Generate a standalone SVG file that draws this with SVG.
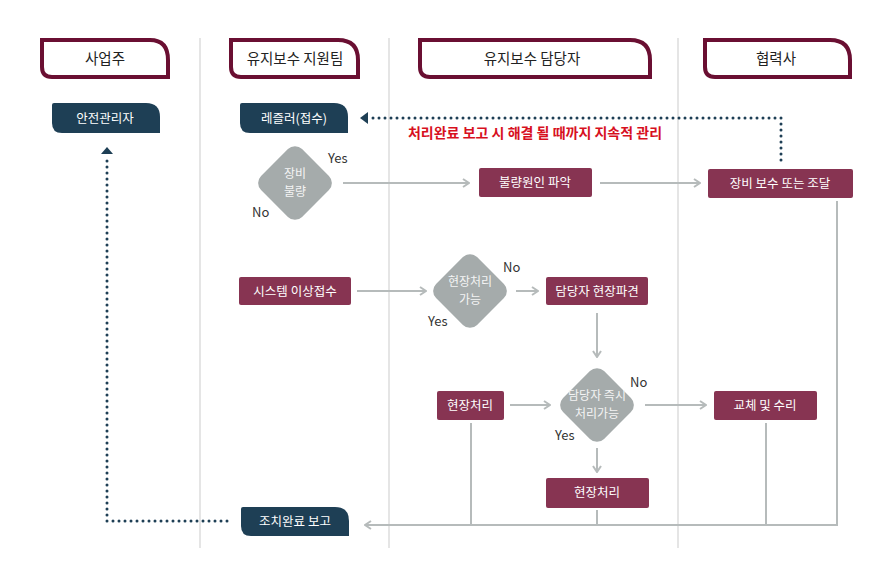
<svg xmlns="http://www.w3.org/2000/svg" width="893" height="563" viewBox="0 0 893 563">
<style>
text{font-family:"Noto Sans CJK KR","Noto Sans",sans-serif}
.hdr{fill:#fff;stroke:#6a0f32;stroke-width:4}
.ht{font-size:14.5px;fill:#222;text-anchor:middle}
.lane{stroke:#dddddd;stroke-width:1.5}
.navy{fill:#1e3f55}
.mar{fill:#873452}
.dia{fill:#a5abab}
.nt{font-size:12.5px;fill:#fff;text-anchor:middle}
.dt{font-size:12px;fill:#f4f4f4;text-anchor:middle}
.lbl{font-size:13px;fill:#333}
.ln{fill:none;stroke:#b6bbbb;stroke-width:2}
.dot{fill:none;stroke:#1e3f55;stroke-width:3;stroke-linecap:round;stroke-dasharray:0 6}
</style>
<defs>
<marker id="chev" viewBox="0 0 10 10" refX="9" refY="5" markerWidth="10" markerHeight="10" markerUnits="userSpaceOnUse" orient="auto">
<path d="M3,1 L9,5 L3,9" fill="none" stroke="#b6bbbb" stroke-width="2"/>
</marker>
</defs>
<rect width="893" height="563" fill="#fff"/>
<g id="lanes">
<line class="lane" x1="200" y1="38" x2="200" y2="548"/>
<line class="lane" x1="389" y1="38" x2="389" y2="548"/>
<line class="lane" x1="678" y1="38" x2="678" y2="548"/>
</g>
<g id="h1"><path class="hdr" d="M42,40 H150 Q168,40 168,60 V77 H52 Q42,77 42,67 Z"/><text class="ht" x="105" y="64">사업주</text></g>
<g id="h2"><path class="hdr" d="M231,40 H338 Q358,40 358,60 V77 H241 Q231,77 231,67 Z"/><text class="ht" x="295" y="64">유지보수 지원팀</text></g>
<g id="h3"><path class="hdr" d="M420,40 H630 Q650,40 650,60 V77 H430 Q420,77 420,67 Z"/><text class="ht" x="532" y="64">유지보수 담당자</text></g>
<g id="h4"><path class="hdr" d="M705,40 H830 Q850,40 850,60 V77 H715 Q705,77 705,67 Z"/><text class="ht" x="776" y="64">협력사</text></g>

<g id="connectors">
<path class="dot" d="M781,160 V118 H368"/>
<path d="M360,118 L368,112 L368,124 Z" fill="#1e3f55"/>
<path class="dot" d="M227,521 H107 V160"/>
<path d="M107,147 L101,154 L113,154 Z" fill="#1e3f55"/>
<path class="ln" d="M343,183 H469" marker-end="url(#chev)"/>
<path class="ln" d="M600,183 H700" marker-end="url(#chev)"/>
<path class="ln" d="M357,291 H426" marker-end="url(#chev)"/>
<path class="ln" d="M516,291 H538" marker-end="url(#chev)"/>
<path class="ln" d="M597,313 V357" marker-end="url(#chev)"/>
<path class="ln" d="M510,405 H550" marker-end="url(#chev)"/>
<path class="ln" d="M645,405 H706" marker-end="url(#chev)"/>
<path class="ln" d="M597,448 V472" marker-end="url(#chev)"/>
<path class="ln" d="M471,423 V525"/>
<path class="ln" d="M597,510 V525"/>
<path class="ln" d="M766,423 V525"/>
<path class="ln" d="M837,201 V525 H365" marker-end="url(#chev)"/>
</g>

<g id="n_safety"><path class="navy" d="M54,103 H146 Q160,103 160,117 V133 H62 Q52,133 52,123 V105 Q52,103 54,103 Z"/><text class="nt" x="105" y="123">안전관리자</text></g>
<g id="n_reg"><path class="navy" d="M242,103 H334 Q348,103 348,117 V133 H250 Q240,133 240,123 V105 Q240,103 242,103 Z"/><text class="nt" x="294" y="123">레즐러(접수)</text></g>
<g id="n_report"><path class="navy" d="M243,507 H335 Q349,507 349,521 V536 H251 Q241,536 241,526 V509 Q241,507 243,507 Z"/><text class="nt" x="295" y="526">조치완료 보고</text></g>

<g id="note"><text x="535" y="138" font-size="14" font-weight="bold" fill="#d7101e" text-anchor="middle">처리완료 보고 시 해결 될 때까지 지속적 관리</text></g>

<g id="d1"><rect class="dia" x="266" y="154" width="58" height="58" rx="10" transform="rotate(45 295 183)"/><text class="dt" x="295" y="178">장비</text><text class="dt" x="295" y="196">불량</text>
<text class="lbl" x="328" y="163">Yes</text><text class="lbl" x="252" y="217">No</text></g>
<g id="n_cause"><rect class="mar" x="479" y="168" width="113" height="29" rx="2"/><text class="nt" x="535" y="187">불량원인 파악</text></g>
<g id="n_supply"><rect class="mar" x="708" y="169" width="145" height="29" rx="2"/><text class="nt" x="780" y="188">장비 보수 또는 조달</text></g>

<g id="n_sys"><rect class="mar" x="239" y="277" width="112" height="28" rx="2"/><text class="nt" x="295" y="296">시스템 이상접수</text></g>
<g id="d2"><rect class="dia" x="441" y="262" width="58" height="58" rx="10" transform="rotate(45 470 291)"/><text class="dt" x="470" y="286">현장처리</text><text class="dt" x="470" y="304">가능</text>
<text class="lbl" x="503" y="272">No</text><text class="lbl" x="428" y="326">Yes</text></g>
<g id="n_dispatch"><rect class="mar" x="546" y="277" width="102" height="28" rx="2"/><text class="nt" x="597" y="296">담당자 현장파견</text></g>

<g id="n_site1"><rect class="mar" x="437" y="391" width="67" height="29" rx="2"/><text class="nt" x="470" y="410">현장처리</text></g>
<g id="d3"><rect class="dia" x="568" y="376" width="58" height="58" rx="10" transform="rotate(45 597 405)"/><text class="dt" x="597" y="400">담당자 즉시</text><text class="dt" x="597" y="418">처리가능</text>
<text class="lbl" x="630" y="387">No</text><text class="lbl" x="555" y="440">Yes</text></g>
<g id="n_repair"><rect class="mar" x="714" y="391" width="103" height="29" rx="2"/><text class="nt" x="765" y="410">교체 및 수리</text></g>
<g id="n_site2"><rect class="mar" x="546" y="478" width="103" height="30" rx="2"/><text class="nt" x="597" y="497">현장처리</text></g>
</svg>
